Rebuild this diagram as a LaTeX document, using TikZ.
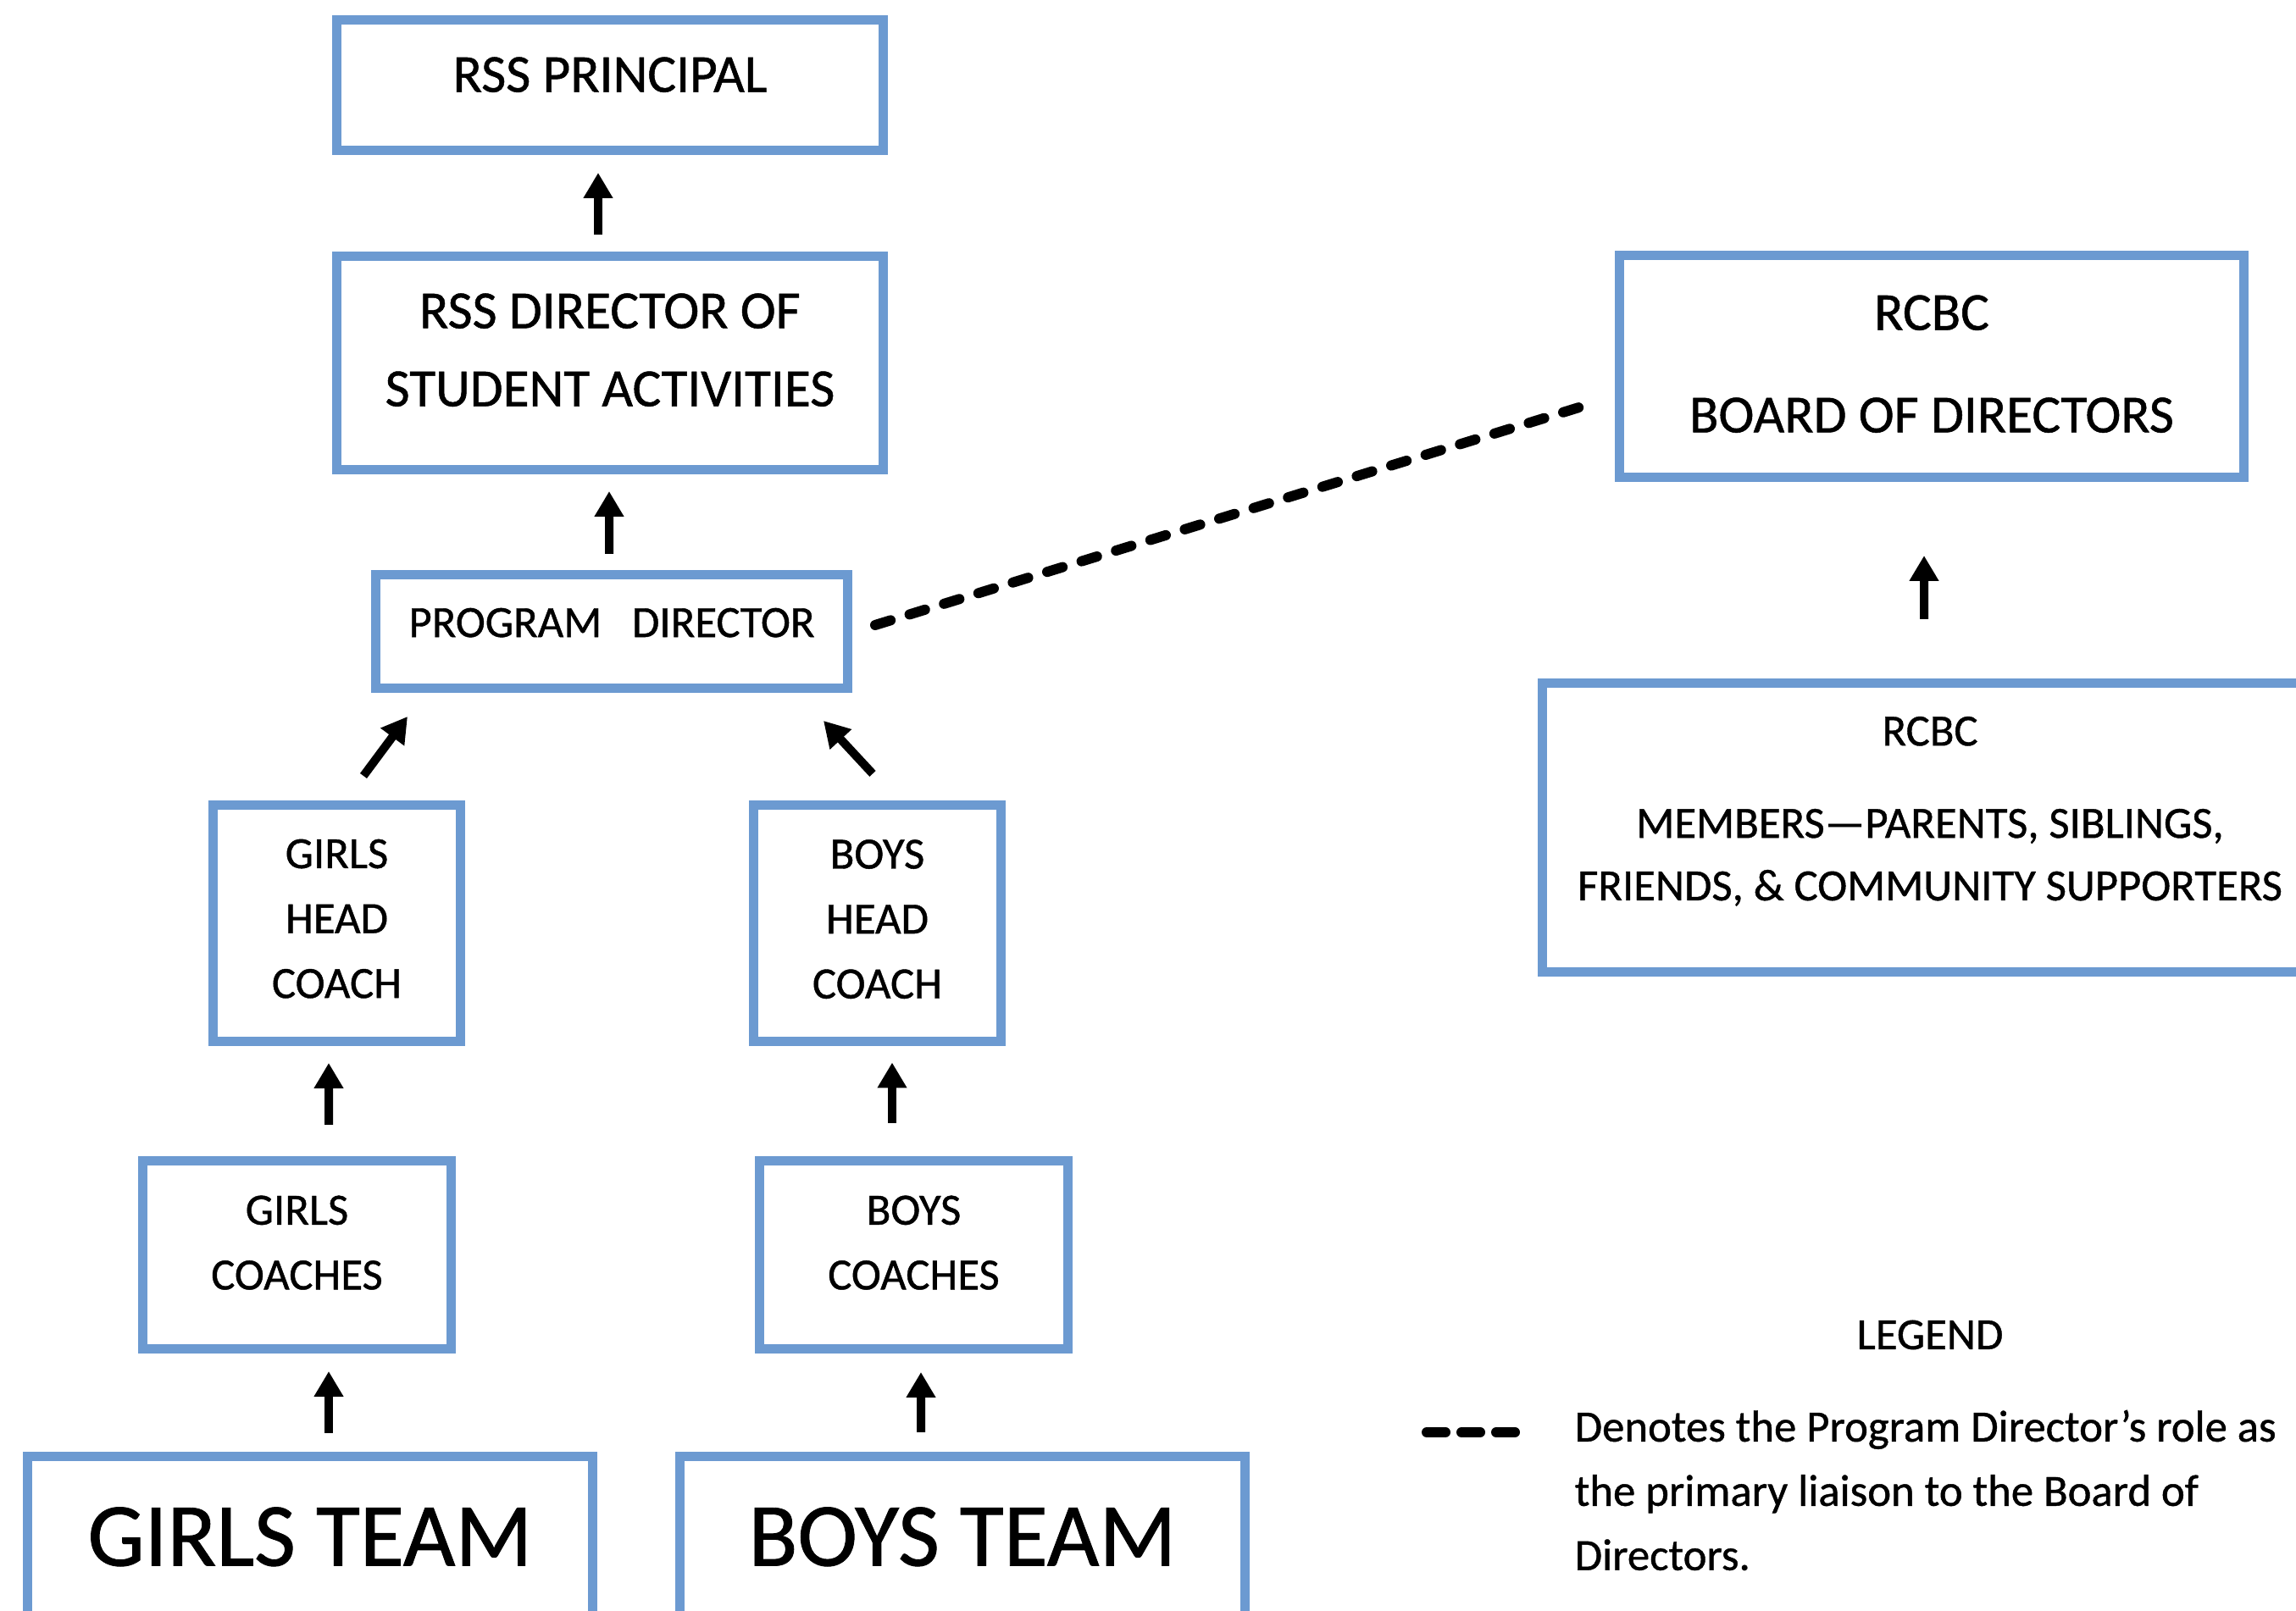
\documentclass[tikz,border=0pt]{standalone}
\usepackage{fontspec}
\setmainfont{Carlito}[FakeBold=0.8]
\usetikzlibrary{arrows.meta}
\definecolor{boxblue}{RGB}{108,154,209}
\newcommand{\txtup}[1]{\rule[-#1]{0pt}{0pt}}
\newcommand{\fbig}{\fontsize{18}{26.2}\selectfont}
\newcommand{\fsmall}{\fontsize{15}{21.8}\selectfont}
\newcommand{\fteam}{\fontsize{30.3}{36}\selectfont}
\newcommand{\fboard}{\fontsize{18}{34.4}\selectfont}
\begin{document}
\begin{tikzpicture}[>={Triangle[width=0.33cm,length=0.3cm]},
box/.style={draw=boxblue,line width=0.11cm,inner sep=0pt,align=center},
arr/.style={->,line width=0.1cm},
liaison/.style={line width=0.12cm,line cap=round,dash pattern=on 0.19cm off 0.235cm}]
\useasboundingbox (0,0) rectangle (27.1,19.02);
\clip (0,0) rectangle (27.1,19.02);
\node (prin) at (7.2,18.015)[box,minimum width=6.45cm,minimum height=1.54cm,font=\fbig]{RSS PRINCIPAL\txtup{.25cm}};
\node (dir) at (7.2,14.735)[box,minimum width=6.45cm,minimum height=2.52cm,font=\fbig]{RSS DIRECTOR OF\\STUDENT ACTIVITIES\txtup{.31cm}};
\node (prog) at (7.22,11.565)[box,minimum width=5.57cm,minimum height=1.34cm,font=\fsmall]{PROGRAM~~~DIRECTOR\txtup{.21cm}};
\node (ghead) at (3.975,8.12)[box,minimum width=2.92cm,minimum height=2.79cm,font=\fsmall]{GIRLS\\HEAD\\COACH\txtup{.11cm}};
\node (bhead) at (10.355,8.115)[box,minimum width=2.92cm,minimum height=2.79cm,font=\fsmall]{BOYS\\HEAD\\COACH\txtup{.11cm}};
\node (gcoach) at (3.505,4.205)[box,minimum width=3.64cm,minimum height=2.22cm,font=\fsmall]{GIRLS\\COACHES\txtup{.29cm}};
\node (bcoach) at (10.785,4.205)[box,minimum width=3.64cm,minimum height=2.22cm,font=\fsmall]{BOYS\\COACHES\txtup{.29cm}};
\node (gteam) at (3.66,0.525)[box,minimum width=6.67cm,minimum height=2.6cm,font=\fteam]{GIRLS TEAM\txtup{.71cm}};
\node (bteam) at (11.36,0.525)[box,minimum width=6.67cm,minimum height=2.6cm,font=\fteam]{BOYS TEAM\txtup{.71cm}};
\node (board) at (22.8,14.695)[box,minimum width=7.37cm,minimum height=2.62cm,font=\fboard]{RCBC\\BOARD OF DIRECTORS\txtup{.06cm}};
\node (memb) at (22.78,9.25)[box,minimum width=9.15cm,minimum height=3.41cm,font=\fontsize{15}{21}\selectfont]{RCBC\\[10pt]MEMBERS---PARENTS, SIBLINGS,\\FRIENDS, \& COMMUNITY SUPPORTERS\txtup{.45cm}};
\node (legend) at (22.78,3.26)[font=\fsmall]{LEGEND};
\node (legtext) at (18.58,2.38)[anchor=north west,inner sep=0pt,align=left,font=\fontsize{15}{21.6}\selectfont]{Denotes the Program Director’s role as\\the primary liaison to the Board of\\Directors.};
\coordinate (lg1) at (16.84,2.11);
\coordinate (lg2) at (17.88,2.11);
\draw[arr] ([shift={(-0.14,0.2)}]dir.north)--([shift={(-0.14,-0.21)}]prin.south);
\draw[arr] ([shift={(-0.03,0.19)}]prog.north)--([shift={(-0.01,-0.2)}]dir.south);
\draw[arr] ([shift={(0.315,0.29)}]ghead.north)--([shift={(0.43,-0.28)}]prog.south west);
\draw[arr] ([shift={(-0.055,0.32)}]bhead.north)--([shift={(-0.34,-0.33)}]prog.south east);
\draw[arr] ([shift={(0.375,0.37)}]gcoach.north)--([shift={(-0.095,-0.2)}]ghead.south);
\draw[arr] ([shift={(-0.255,0.39)}]bcoach.north)--([shift={(0.175,-0.19)}]bhead.south);
\draw[arr] ([shift={(0.22,0.22)}]gteam.north)--([shift={(0.375,-0.21)}]gcoach.south);
\draw[arr] ([shift={(-0.49,0.23)}]bteam.north)--([shift={(0.085,-0.22)}]bcoach.south);
\draw[arr] ([shift={(-0.07,0.7)}]memb.north)--([shift={(-0.09,-0.87)}]board.south);
\draw[liaison] ([shift={(0.27,0.075)}]prog.east)--([shift={(-0.39,-0.475)}]board.west);
\draw[liaison,dash pattern=on 0.22cm off 0.19cm] (lg1)--(lg2);
\end{tikzpicture}
\end{document}
